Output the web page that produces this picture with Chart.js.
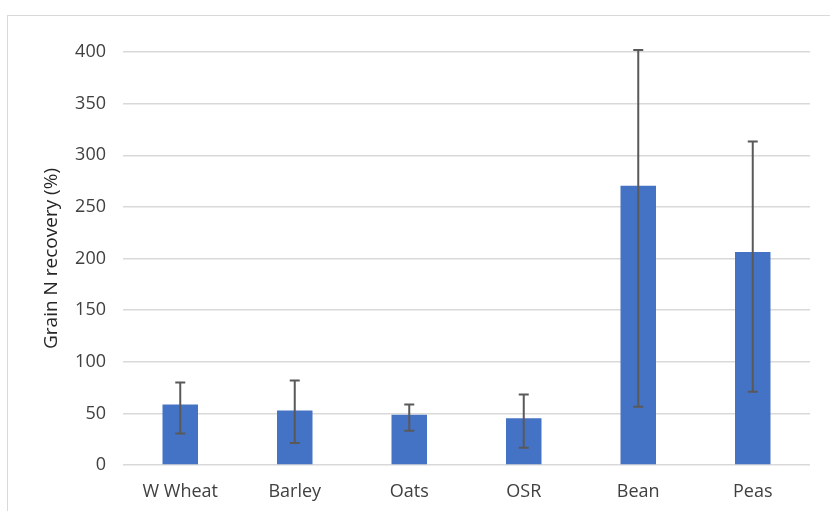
<!DOCTYPE html>
<html>
<head>
<meta charset="utf-8">
<script src="https://cdn.jsdelivr.net/npm/chart.js@4/dist/chart.umd.min.js"></script>
<style>
    html, body { margin: 0; padding: 0; background: #fff; }
    #wrap { position: relative; width: 830px; height: 511px; }
    #frame { position: absolute; left: 7px; top: 15px; width: 830px; height: 510px;
             border-left: 1px solid #d9d9d9; border-top: 1px solid #d9d9d9; }
    canvas { position: absolute; left: 0; top: 0; }
</style>
</head>
<body>
<div id="wrap">
    <div id="frame"></div>
    <canvas id="grafico" width="830" height="511"></canvas>
</div>
<script>
const crops = ['W Wheat', 'Barley', 'Oats', 'OSR', 'Bean', 'Peas'];
const recovery = [58.7, 52.9, 48.6, 45.2, 270.5, 206.3];
const errLow = [30.6, 21.3, 33.2, 16.8, 56.4, 70.9];
const errHigh = [80, 81.9, 58.7, 68.4, 402, 313.3];

const fonte = "'Open Sans', 'Liberation Sans', sans-serif";

const errorBars = {
    id: 'errorBars',
    afterDatasetsDraw(chart) {
        const ctx = chart.ctx;
        const y = chart.scales.y;
        const meta = chart.getDatasetMeta(0);
        ctx.save();
        ctx.strokeStyle = '#595959';
        ctx.lineWidth = 2;
        meta.data.forEach((bar, i) => {
            const top = y.getPixelForValue(errHigh[i]);
            const bottom = y.getPixelForValue(errLow[i]);
            ctx.beginPath();
            ctx.moveTo(bar.x, top);
            ctx.lineTo(bar.x, bottom);
            ctx.moveTo(bar.x - 5, top);
            ctx.lineTo(bar.x + 5, top);
            ctx.moveTo(bar.x - 5, bottom);
            ctx.lineTo(bar.x + 5, bottom);
            ctx.stroke();
        });
        ctx.restore();
    }
};

new Chart(document.getElementById('grafico'), {
    type: 'bar',
    data: {
        labels: crops,
        datasets: [{
            data: recovery,
            backgroundColor: '#4472c4',
            categoryPercentage: 1,
            barPercentage: 0.31
        }]
    },
    options: {
        responsive: false,
        animation: false,
        layout: { padding: { left: 36, right: 20, top: 52, bottom: 0 } },
        plugins: {
            legend: { display: false },
            tooltip: { enabled: false }
        },
        scales: {
            x: {
                grid: { display: false, drawTicks: false },
                border: { display: false },
                ticks: { color: '#404040', font: { family: fonte, size: 18 }, padding: 16 },
                afterFit: (s) => { s.height = 46; }
            },
            y: {
                min: 0,
                max: 400,
                ticks: { stepSize: 50, color: '#404040', font: { family: fonte, size: 18 }, padding: 17 },
                grid: { color: '#d9d9d9', lineWidth: 1.5, drawTicks: false },
                border: { display: false },
                title: {
                    display: true,
                    text: 'Grain N recovery (%)',
                    color: '#262626',
                    font: { family: fonte, size: 19 }
                },
                afterFit: (s) => { s.width = 87; }
            }
        }
    },
    plugins: [errorBars]
});
</script>
</body>
</html>
